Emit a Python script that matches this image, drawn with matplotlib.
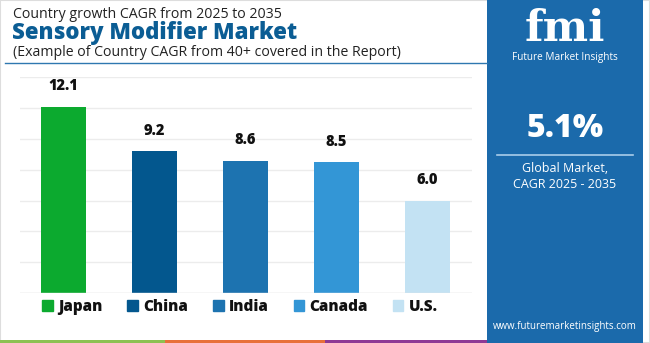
import matplotlib
matplotlib.use("Agg")
import matplotlib.pyplot as plt
from matplotlib.patches import Rectangle
from matplotlib.lines import Line2D

countries = ["Japan", "China", "India", "Canada", "U.S."]
cagr = [12.1, 9.2, 8.6, 8.5, 6.0]
colors = ["#0caa2f", "#03578e", "#1d73b0", "#3396d6", "#c3e2f3"]
global_cagr = "5.1%"

plt.rcParams['font.family'] = ['Open Sans', 'DejaVu Sans']

W, H = 650, 343
fig = plt.figure(figsize=(6.5, 3.43), dpi=100)
fig.patch.set_facecolor("white")

def fx(px):
    return px / W

def fy(py):
    return 1 - py / H

# frame
fig.add_artist(Rectangle((0, 0), 1, 1, transform=fig.transFigure, fill=False,
                         edgecolor="#dddddd", lw=1.5))

# axes
ax = fig.add_axes([fx(20), fy(293), fx(452), (293 - 77.4) / H])
x = list(range(len(countries)))
bars = ax.bar(x, cagr, width=0.5, color=colors, zorder=3)
ax.set_xlim(-0.48, 4.49)
ax.set_ylim(0, 14)
ax.set_yticks(range(0, 15, 2))
ax.grid(axis="y", color="#ececec", lw=1, zorder=0)
ax.set_axisbelow(True)
ax.tick_params(left=False, bottom=False, labelleft=False, labelbottom=False)
for s in ax.spines.values():
    s.set_visible(False)
ax.axhline(0, color="#e6e6e6", lw=1, zorder=4)
for xi, v in zip(x, cagr):
    ax.annotate(f"{v:.1f}", (xi, v), xytext=(0, 9), textcoords="offset points",
                ha="center", va="bottom", fontsize=10.5, fontweight="heavy", color="#111111")

handles = [Rectangle((0, 0), 1, 1, color=c) for c in colors]
leg = fig.legend(handles, countries, loc="center left", bbox_to_anchor=(fx(42), fy(307)),
                 ncol=5, frameon=False, handlelength=0.7, handleheight=0.7,
                 handletextpad=0.35, columnspacing=1.62, borderaxespad=0, borderpad=0,
                 prop={"size": 11, "weight": "heavy"})
for t in leg.get_texts():
    t.set_color("#111111")

# titles
fig.text(fx(13), fy(14), "Country growth CAGR from 2025 to 2035", fontsize=10.2,
         color="#222222", va="center", ha="left")
fig.text(fx(12), fy(33), "Sensory Modifier Market", fontsize=16, fontweight="heavy",
         color="#0b5d94", va="center", ha="left")
fig.text(fx(13), fy(52), "(Example of Country CAGR from 40+ covered in the Report)", fontsize=10.2,
         color="#222222", va="center", ha="left")
fig.add_artist(Line2D([fx(5), fx(487)], [fy(63), fy(63)], transform=fig.transFigure,
                      color="#2f78b0", lw=1))

# bottom stripe
for x0, x1, c in [(0, 165, "#8cc152"), (165, 325, "#e8703a"), (325, 487, "#8e3a95")]:
    fig.add_artist(Rectangle((fx(x0), 0), fx(x1 - x0), 3 / H, transform=fig.transFigure,
                             color=c, lw=0))

# right panel
fig.add_artist(Rectangle((fx(487), 0), fx(643 - 487), 1, transform=fig.transFigure,
                         color="#1b6aab", lw=0))
cx = fx(565)
fig.text(cx, fy(41), "fmi", fontsize=31, fontweight="bold", color="white",
         ha="center", va="baseline", family=["DejaVu Serif"])
fig.text(cx, fy(57.5), "Future Market Insights", fontsize=7.2, color="white",
         ha="center", va="center")
fig.text(cx, fy(129), global_cagr, fontsize=23, fontweight="heavy", color="white",
         ha="center", va="center")
fig.add_artist(Line2D([fx(497), fx(633)], [fy(155), fy(155)], transform=fig.transFigure,
                      color="#a9cdea", lw=1.2))
fig.text(cx, fy(169), "Global Market,", fontsize=9, color="white", ha="center", va="center")
fig.text(cx, fy(185), "CAGR 2025 - 2035", fontsize=9, color="white", ha="center", va="center")
fig.text(cx, fy(327), "www.futuremarketinsights.com", fontsize=7, color="white",
         ha="center", va="center")

fig.savefig("out.png", dpi=100)
